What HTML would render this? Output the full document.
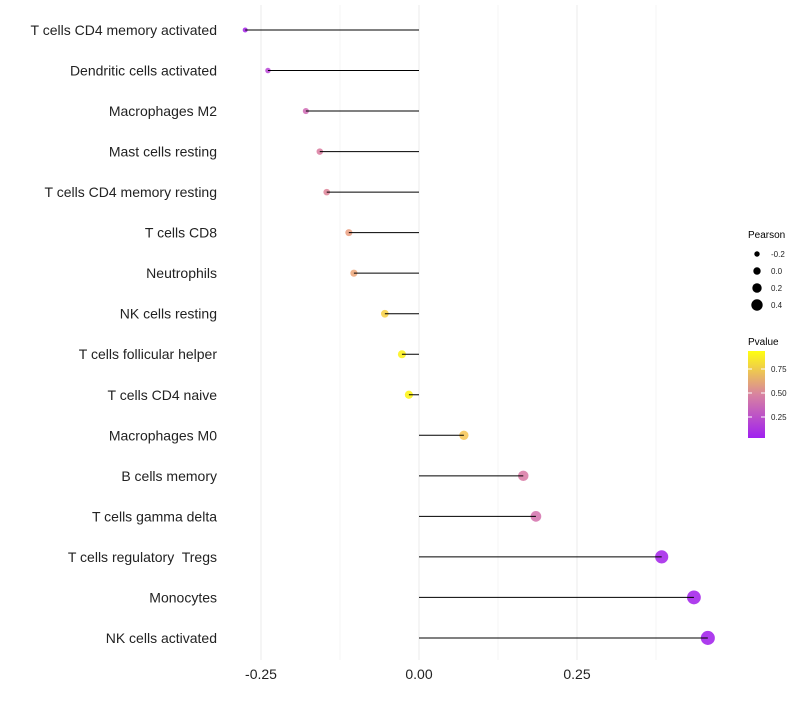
<!DOCTYPE html>
<html><head><meta charset="utf-8"><style>
body{margin:0;background:#fff;font-family:"Liberation Sans",sans-serif}
svg text{font-family:"Liberation Sans",sans-serif;white-space:pre}
</style></head><body>
<svg id="chart" width="800" height="700">
<defs><linearGradient id="pg" x1="0" y1="1" x2="0" y2="0">
<stop offset="0" stop-color="#a020f0"/><stop offset="0.5" stop-color="#d883a0"/><stop offset="1" stop-color="#ffff10"/></linearGradient></defs>
<g id="grid"></g><g id="points"></g><g id="stems"></g><g id="labels"></g>
<g>
<text x="748" y="238" font-size="10">Pearson</text>
<g id="sizeleg"></g>
<text x="748" y="345" font-size="10">Pvalue</text>
<rect x="748" y="351" width="17" height="87" fill="url(#pg)"/>
<g id="colleg"></g>
</g>
</svg>
<script>
const categories=["T cells CD4 memory activated","Dendritic cells activated","Macrophages M2","Mast cells resting","T cells CD4 memory resting","T cells CD8","Neutrophils","NK cells resting","T cells follicular helper","T cells CD4 naive","Macrophages M0","B cells memory","T cells gamma delta","T cells regulatory  Tregs","Monocytes","NK cells activated"];
const pearson=[-0.275,-0.239,-0.179,-0.157,-0.146,-0.111,-0.103,-0.054,-0.027,-0.016,0.071,0.165,0.185,0.384,0.435,0.457];
const pvalue=[0.06,0.2,0.38,0.48,0.52,0.66,0.7,0.86,0.97,0.98,0.82,0.46,0.42,0.05,0.04,0.03];
const xTicks=[-0.25,0,0.25];
const xTickLabels=["-0.25","0.00","0.25"];
const sizeLegVals=[-0.2,0,0.2,0.4];
const sizeLegLabels=["-0.2","0.0","0.2","0.4"];
const colLegVals=[0.25,0.5,0.75];
const colLegLabels=["0.25","0.50","0.75"];
const NS="http://www.w3.org/2000/svg";
const x=v=>419+v*632;
const y=i=>30+i*40.53;
const r=v=>Math.max(1.6,4.2+6.2*v);
const rl=v=>3.7+5*v;
const cy=v=>441-v*96;
function mix(a,b,t){return a.map((c,i)=>Math.round(c+(b[i]-c)*t));}
const stops=[[0,[160,32,240]],[0.25,[196,90,210]],[0.5,[222,134,160]],[0.75,[242,180,120]],[1,[255,250,20]]];
function col(p){for(let i=1;i<stops.length;i++){if(p<=stops[i][0]){const t=(p-stops[i-1][0])/(stops[i][0]-stops[i-1][0]);return `rgb(${mix(stops[i-1][1],stops[i][1],t).join(',')})`;}}return 'rgb(255,250,20)';}
function el(t,a,p){const e=document.createElementNS(NS,t);for(const k in a)e.setAttribute(k,a[k]);p.appendChild(e);return e;}
const grid=document.getElementById('grid'),points=document.getElementById('points'),stems=document.getElementById('stems'),labels=document.getElementById('labels');
for(let i=0;i<xTicks.length;i++){
 const g=el('line',{x1:x(xTicks[i]),x2:x(xTicks[i]),y1:5,y2:660,stroke:'#ebebeb','stroke-width':1},grid);
 
 
 const mv=xTicks[i]+0.125;
 const m=el('line',{x1:x(mv),x2:x(mv),y1:5,y2:660,stroke:'#f4f4f4','stroke-width':1},grid);
 
 
 const t=el('text',{x:x(xTicks[i]),y:679,'font-size':14,'text-anchor':'middle',fill:'#222'},labels);
 t.textContent=xTickLabels[i];
 
 
}
for(let i=0;i<categories.length;i++){
 const c=el('circle',{cx:x(pearson[i]),cy:y(i),r:r(pearson[i]),fill:col(pvalue[i]),'fill-opacity':0.9},points);
 
 
 const l=el('line',{x1:x(0),x2:x(pearson[i]),y1:y(i),y2:y(i),stroke:'#000','stroke-width':1},stems);
 
 
 const t=el('text',{x:217,y:y(i)+5,'font-size':14,'text-anchor':'end',fill:'#222'},labels);
 t.textContent=categories[i];
 
 
}
const sl=document.getElementById('sizeleg');
for(let i=0;i<sizeLegVals.length;i++){
 const c=el('circle',{cx:757,cy:254+i*17,r:rl(sizeLegVals[i]),fill:'#000'},sl);
 
 
 const t=el('text',{x:771,y:257+i*17,'font-size':8,fill:'#222'},sl);
 t.textContent=sizeLegLabels[i];
 
 
}
const cl=document.getElementById('colleg');
for(let i=0;i<colLegVals.length;i++){
 const k=el('line',{x1:748,x2:752,y1:cy(colLegVals[i]),y2:cy(colLegVals[i]),stroke:'#fff'},cl);
 
 
 const k2=el('line',{x1:761,x2:765,y1:cy(colLegVals[i]),y2:cy(colLegVals[i]),stroke:'#fff'},cl);
 
 
 const t=el('text',{x:771,y:cy(colLegVals[i])+3,'font-size':8,fill:'#222'},cl);
 t.textContent=colLegLabels[i];
 
 
}
</script>
</body></html>
